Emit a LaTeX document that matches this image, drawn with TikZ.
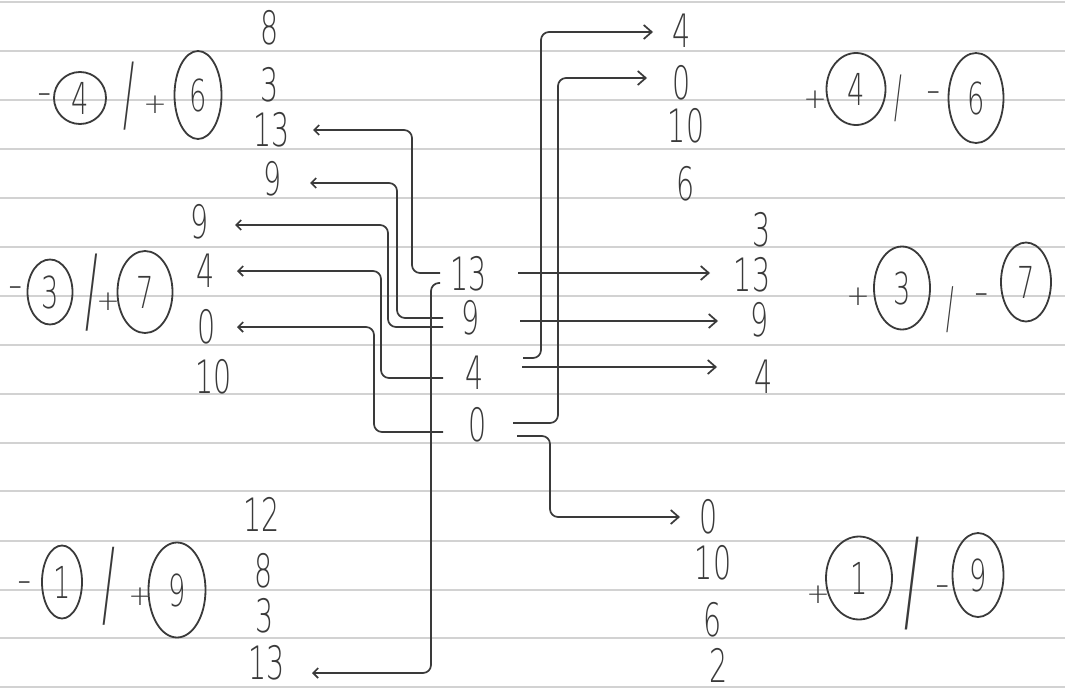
\documentclass[tikz,border=0pt]{standalone}
\usepackage{fontspec}
\usetikzlibrary{shapes.geometric,arrows.meta,calc}
\IfFontExistsTF{DejaVu Sans ExtraLight}
 {\newfontfamily\handf[FakeStretch=0.62]{DejaVu Sans ExtraLight}
  \newfontfamily\slashf[FakeStretch=0.4]{DejaVu Sans ExtraLight}
  \newfontfamily\signf{DejaVu Sans ExtraLight}}
 {\newfontfamily\handf[FakeStretch=0.62]{DejaVu Sans}
  \newfontfamily\slashf[FakeStretch=0.4]{DejaVu Sans}
  \newfontfamily\signf{DejaVu Sans}}
\definecolor{pen}{HTML}{3A3A3A}
\definecolor{ruling}{HTML}{D2D2D2}
\begin{document}
\begin{tikzpicture}[x=1pt,y=-1pt,
  num/.style={font=\fontsize{46}{46}\selectfont\handf, text=pen, inner sep=0pt, anchor=center},
  circ/.style={ellipse, draw=pen, line width=1.8pt, inner sep=0pt, font=\fontsize{44}{44}\selectfont\handf, text=pen},
  sgn/.style={font=\fontsize{28}{28}\selectfont\signf, text=pen, inner sep=0pt},
  dsh/.style={font=\fontsize{40}{40}\selectfont\signf, text=pen, inner sep=0pt},
  slsh/.style={font=\fontsize{#1}{#1}\selectfont\slashf, text=pen, inner sep=0pt},
  conn/.style={draw=pen, line width=1.7pt, rounded corners=8pt},
  ltip/.style={-{Straight Barb[length=5pt,width=10pt]}},
  rtip/.style={-{Straight Barb[length=8pt,width=14pt]}},
  paperline/.style={draw=ruling, line width=1.3pt}]
\useasboundingbox (0,0) rectangle (1065,696);
\fill[white] (0,0) rectangle (1065,696);
% ruled lines of the paper
\foreach \yy in {2,51,100,149,198,247,296,345,394,443,491,541,590,638,687}
  \draw[paperline] (0,\yy) -- (1065,\yy);

% ---------- left groups ----------
\node[num] (L8)   at (270,28)  {8};
\node[num] (L3)   at (270,85)  {3};
\node[num] (L13a) at (272,130) {13};
\node[num] (L9a)  at (273,179) {9};

\node[num] (L9b)  at (200,222) {9};
\node[num] (L4)   at (206,271) {4};
\node[num] (L0)   at (207,327) {0};
\node[num] (L10)  at (214,377) {10};

\node[num] (L12)  at (262,514) {12};
\node[num] (L8b)  at (264,571) {8};
\node[num] (L3b)  at (265,616) {3};
\node[num] (L13b) at (267,663) {13};

% ---------- centre column ----------
\node[num] (C13) at (469,274) {13};
\node[num] (C9)  at (471,318) {9};
\node[num] (C4)  at (475,373) {4};
\node[num] (C0)  at (478,425) {0};

% ---------- right groups ----------
\node[num] (R4)   at (682,31)  {4};
\node[num] (R0)   at (682,83)  {0};
\node[num] (R10)  at (686,126) {10};
\node[num] (R6)   at (686,184) {6};

\node[num] (R3)   at (762,230) {3};
\node[num] (R13)  at (752,275) {13};
\node[num] (R9)   at (760,320) {9};
\node[num] (R4b)  at (764,377) {4};

\node[num] (R0b)  at (709,517) {0};
\node[num] (R10b) at (713,563) {10};
\node[num] (R6b)  at (713,620) {6};
\node[num] (R2)   at (719,665) {2};

% ---------- circled labels ----------
% -(4)/+(6)
\node[dsh] (g1m) at (45,100) {-};
\node[circ, minimum width=52pt, minimum height=52pt] (g1a) at (80,98) {4};
\node[slsh=83] (g1s) at (129,96) {/};
\node[sgn] (g1p) at (155,105) {+};
\node[circ, minimum width=47pt, minimum height=88pt] (g1b) at (198,95) {6};
% -(3)/+(7)
\node[dsh] (g2m) at (16,293) {-};
\node[circ, minimum width=45pt, minimum height=65pt] (g2a) at (50,292) {3};
\node[slsh=94] (g2s) at (92,293) {/};
\node[sgn] (g2p) at (108,302) {+};
\node[circ, minimum width=55pt, minimum height=82pt] (g2b) at (145,292) {7};
% -(1)/+(9)
\node[dsh] (g3m) at (25,588) {-};
\node[circ, minimum width=40pt, minimum height=73pt] (g3a) at (62,582) {1};
\node[slsh=95] (g3s) at (109,586) {/};
\node[sgn] (g3p) at (140,597) {+};
\node[circ, minimum width=57pt, minimum height=95pt] (g3b) at (177,590) {9};
% +(4)/-(6)
\node[sgn] (g4p) at (815,100) {+};
\node[circ, minimum width=59pt, minimum height=72pt] (g4a) at (856,89) {4};
\node[slsh=57] (g4s) at (898,98) {/};
\node[dsh] (g4m) at (934,98) {-};
\node[circ, minimum width=55pt, minimum height=90pt] (g4b) at (976,98) {6};
% +(3)/-(7)
\node[sgn] (g5p) at (858,297) {+};
\node[circ, minimum width=56pt, minimum height=83pt] (g5a) at (902,288) {3};
\node[slsh=56] (g5s) at (950,310) {/};
\node[dsh] (g5m) at (982,300) {-};
\node[circ, minimum width=50pt, minimum height=79pt] (g5b) at (1026,282) {7};
% +(1)/-(9)
\node[sgn] (g6p) at (818,595) {+};
\node[circ, minimum width=66pt, minimum height=83pt] (g6a) at (859,578) {1};
\node[slsh=113] (g6s) at (912,584) {/};
\node[dsh] (g6m) at (943,592) {-};
\node[circ, minimum width=51pt, minimum height=84pt] (g6b) at (978,575) {9};

% ---------- connectors to the left ----------
\draw[conn,ltip] ($(C13)+(-29,-1)$) -- ++(-28,0) |- ($(L13a)+(41,0)$);
\draw[conn,ltip] ($(C9)+(-28,0)$)   -- ++(-46,0) |- ($(L9a)+(37,4)$);
\draw[conn,ltip] ($(C9)+(-28,9)$)   -- ++(-55,0) |- ($(L9b)+(35,3)$);
\draw[conn,ltip] ($(C4)+(-32,5)$)   -- ++(-62,0) |- ($(L4)+(31,0)$);
\draw[conn,ltip] ($(C0)+(-35,7)$)   -- ++(-69,0) |- ($(L0)+(30,0)$);
\draw[conn,ltip] ($(C13)+(-29,9)$)  -- ++(-9,0)  |- ($(L13b)+(45,10)$);

% ---------- connectors to the right ----------
\draw[conn,rtip] ($(C13)+(49,-1)$) -- ($(R13)+(-42,-2)$);
\draw[conn,rtip] ($(C9)+(49,3)$)   -- ($(R9)+(-42,1)$);
\draw[conn,rtip] ($(C4)+(47,-6)$)  -- ($(R4b)+(-47,-10)$);
\draw[conn,rtip] ($(C4)+(48,-15)$) -- ++(18,0) |- ($(R4)+(-29,1)$);
\draw[conn,rtip] ($(C0)+(35,-2)$)  -- ++(45,0) |- ($(R0)+(-35,-5)$);
\draw[conn,rtip] ($(C0)+(39,11)$)  -- ++(33,0) |- ($(R0b)+(-29,0)$);
\end{tikzpicture}
\end{document}
